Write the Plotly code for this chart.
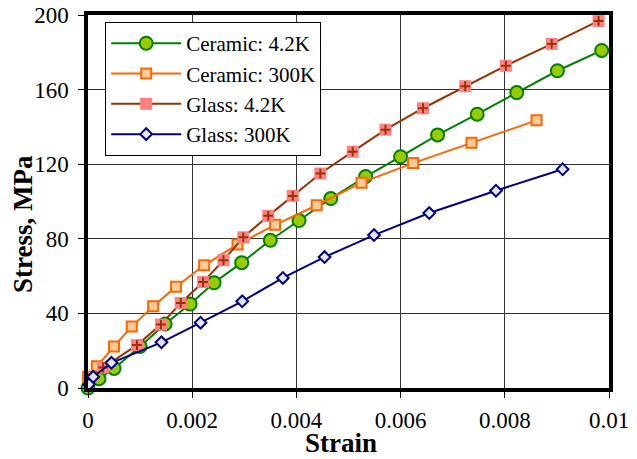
import plotly.graph_objects as go

# ---- data ----
ceramic_42_x = [0, 0.00021, 0.0005, 0.001, 0.00148, 0.00196, 0.00242, 0.00295, 0.0035, 0.00405,
                0.00466, 0.00533, 0.006, 0.00671, 0.00747, 0.00823, 0.00901, 0.00986]
ceramic_42_y = [0, 5, 10.5, 22.3, 34.3, 45, 56.4, 67.2, 79.2, 89.8,
                101.6, 113.4, 124, 135.7, 146.8, 158.4, 170.1, 181]

ceramic_300_x = [0, 0.00017, 0.0005, 0.00084, 0.00125, 0.00169, 0.00223, 0.00287, 0.00359,
                 0.00439, 0.00525, 0.00624, 0.00736, 0.00861]
ceramic_300_y = [6, 11.6, 22.3, 33, 43.8, 54.3, 65.8, 77, 87.5,
                 98, 110.1, 120.6, 131.5, 143.5]

glass_42_x = [0.00003, 0.00029, 0.00094, 0.0014, 0.00178, 0.00221, 0.0026, 0.00298, 0.00346,
              0.00393, 0.00446, 0.00508, 0.00571, 0.00643, 0.00724, 0.00802, 0.0089, 0.0098]
glass_42_y = [5, 11, 23, 34, 45.6, 56.8, 68.5, 80.8, 92.3,
              103, 115, 126.7, 138.5, 150, 161.8, 172.8, 184.5, 196.8]

glass_300_x = [0.00002, 0.0001, 0.00045, 0.00141, 0.00216, 0.00296, 0.00374, 0.00454,
               0.00549, 0.00655, 0.00783, 0.00911]
glass_300_y = [2, 6, 13.5, 24.5, 35, 46.5, 59, 70.2, 82, 93.8, 105.8, 117.3]

series_names = ["Ceramic: 4.2K", "Ceramic: 300K", "Glass: 4.2K", "Glass: 300K"]

x_tickvals = [0, 0.002, 0.004, 0.006, 0.008, 0.01]
x_ticktext = ["0", "0.002", "0.004", "0.006", "0.008", "0.01"]
y_tickvals = [0, 40, 80, 120, 160, 200]
y_ticktext = ["0", "40", "80", "120", "160", "200"]

x_title = "Strain"
y_title = "Stress, MPa"

FONT = "Liberation Serif, Times New Roman, serif"

fig = go.Figure()

fig.add_trace(go.Scatter(
    x=ceramic_42_x, y=ceramic_42_y, name=series_names[0], mode="lines+markers",
    line=dict(color="#008000", width=2),
    marker=dict(symbol="circle", size=13, color="#99cc00", line=dict(color="#008000", width=2)),
    cliponaxis=False))

fig.add_trace(go.Scatter(
    x=ceramic_300_x, y=ceramic_300_y, name=series_names[1], mode="lines+markers",
    line=dict(color="#ff6600", width=2),
    marker=dict(symbol="square", size=10, color="#ffcc99", line=dict(color="#ff6600", width=2)),
    cliponaxis=False))

fig.add_trace(go.Scatter(
    x=glass_42_x, y=glass_42_y, name=series_names[2], mode="lines+markers",
    line=dict(color="#993300", width=2),
    marker=dict(symbol="square", size=12, color="#ff8080", line=dict(width=0)),
    cliponaxis=False, legendgroup="g42"))
fig.add_trace(go.Scatter(
    x=glass_42_x, y=glass_42_y, name=series_names[2], mode="markers", showlegend=False,
    marker=dict(symbol="cross-thin-open", size=7, color="#993300", line=dict(color="#993300", width=2)),
    cliponaxis=False, legendgroup="g42", hoverinfo="skip"))

fig.add_trace(go.Scatter(
    x=glass_300_x, y=glass_300_y, name=series_names[3], mode="lines+markers",
    line=dict(color="#000080", width=2),
    marker=dict(symbol="diamond", size=9, color="#e6e6ff", line=dict(color="#000080", width=2)),
    cliponaxis=False))

axis_common = dict(
    showline=True, linecolor="black", linewidth=3.5, mirror=True,
    showgrid=True, gridcolor="#333333", gridwidth=1,
    ticks="outside", ticklen=6, tickcolor="black", tickwidth=1,
    zeroline=False, automargin=False, ticklabeloverflow="allow",
    tickfont=dict(family=FONT, size=23, color="black"),
)

# page body has an 8px default margin, so the figure is 8px smaller and margins offset
fig.update_layout(
    width=629, height=451,
    margin=dict(l=80, r=28, t=7, b=71),
    paper_bgcolor="white", plot_bgcolor="white",
    font=dict(family=FONT, color="black"),
    showlegend=True,
    legend=dict(
        x=0.033, y=0.981, xanchor="left", yanchor="top",
        bgcolor="white", bordercolor="black", borderwidth=1,
        font=dict(family=FONT, size=21, color="black"),
        tracegroupgap=0, itemwidth=70,
    ),
    xaxis=dict(range=[0, 0.01], tickvals=x_tickvals, ticktext=x_ticktext,
               ticklabelstandoff=3, **axis_common),
    yaxis=dict(range=[0, 200], tickvals=y_tickvals, ticktext=y_ticktext,
               ticklabelstandoff=5, **axis_common),
    annotations=[
        dict(text=x_title, xref="paper", yref="paper", x=0.4856, y=-0.1475,
             xanchor="center", yanchor="middle", showarrow=False,
             font=dict(family=FONT, size=27, weight="bold", color="black")),
        dict(text=y_title, xref="paper", yref="paper", x=-0.1248, y=0.4397,
             xanchor="center", yanchor="middle", showarrow=False, textangle=-90,
             font=dict(family=FONT, size=27, weight="bold", color="black")),
    ],
)

fig.write_html("out.html")
